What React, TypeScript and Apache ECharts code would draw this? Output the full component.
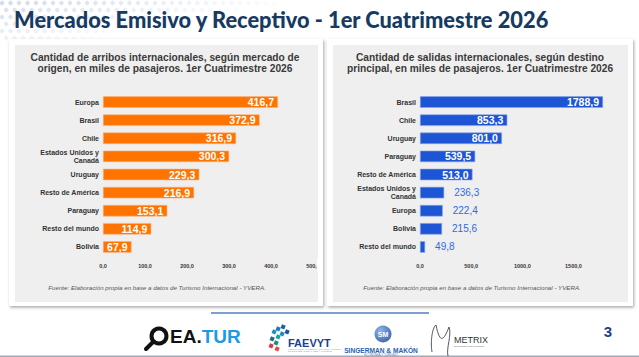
import React, { useEffect, useRef } from "react";
import * as echarts from "echarts";

// Arribos internacionales por mercado de origen (miles de pasajeros)
const categoriasArribos = [
  "Europa",
  "Brasil",
  "Chile",
  "Estados Unidos y\nCanadá",
  "Uruguay",
  "Resto de América",
  "Paraguay",
  "Resto del mundo",
  "Bolivia",
];
const valoresArribos = [416.7, 372.9, 316.9, 300.3, 229.3, 216.9, 153.1, 114.9, 67.9];

// Salidas internacionales por destino principal (miles de pasajeros)
const categoriasSalidas = [
  "Brasil",
  "Chile",
  "Uruguay",
  "Paraguay",
  "Resto de América",
  "Estados Unidos y\nCanadá",
  "Europa",
  "Bolivia",
  "Resto del mundo",
];
const valoresSalidas = [1788.9, 853.3, 801.0, 539.5, 513.0, 236.3, 222.4, 215.6, 49.8];

const tituloSlide = "Mercados Emisivo y Receptivo - 1er Cuatrimestre 2026";
const tituloArribos =
  "Cantidad de arribos internacionales, según mercado de\norigen, en miles de pasajeros. 1er Cuatrimestre 2026";
const tituloSalidas =
  "Cantidad de salidas internacionales, según destino\nprincipal, en miles de pasajeros. 1er Cuatrimestre 2026";
const fuente = "Fuente: Elaboración propia en base a datos de Turismo Internacional - YVERA.";
const numeroPagina = "3";

const SANS = "'Liberation Sans', Arial, sans-serif";
const fmt = (v: number) => v.toFixed(1).replace(".", ",");

function dotPattern() {
  const dots: any[] = [];
  for (let j = 0; j < 6; j++) {
    for (let i = 0; i < 34; i++) {
      const x = i * 8.5 + (j % 2) * 4.2;
      const y = j * 7 + 1;
      const o = 1 - x / 300 - y / 60;
      if (o <= 0.05) continue;
      dots.push({
        type: "rect",
        x: x + 2,
        y: y + 2,
        originX: 0,
        originY: 0,
        rotation: Math.PI / 5,
        shape: { x: -2, y: -2, width: 4, height: 4, r: 1 },
        style: { fill: "#c5d3e8", opacity: o * 0.8 },
        z: -20,
        silent: true,
      });
    }
  }
  return dots;
}

function card(x: number, y: number, w: number, h: number) {
  return [
    {
      type: "rect",
      shape: { x, y, width: w, height: h },
      style: {
        fill: "#ffffff",
        shadowBlur: 3,
        shadowColor: "rgba(0,0,0,0.35)",
        shadowOffsetX: 1,
        shadowOffsetY: 1.5,
      },
      z: -15,
      silent: true,
    },
    {
      type: "rect",
      shape: { x: x + 6, y: y + 6, width: w - 11, height: h - 10 },
      style: { fill: "#efefef" },
      z: -14,
      silent: true,
    },
  ];
}

function footer() {
  const els: any[] = [];
  // OEA.TUR
  els.push({
    type: "circle",
    shape: { cx: 159, cy: 336, r: 7.5 },
    style: { fill: "none", stroke: "#111", lineWidth: 4 },
  });
  els.push({
    type: "line",
    shape: { x1: 153, y1: 342, x2: 146, y2: 349 },
    style: { stroke: "#111", lineWidth: 4, lineCap: "round" },
  });
  els.push({
    type: "text",
    x: 170,
    y: 346,
    style: {
      text: "{a|EA.}{b|TUR}",
      textVerticalAlign: "bottom",
      rich: {
        a: { fontFamily: SANS, fontWeight: "bold", fontSize: 19, fill: "#111" },
        b: { fontFamily: SANS, fontWeight: "bold", fontSize: 19, fill: "#1e9be3" },
      },
    },
  });
  // FAEVYT
  const sq = [
    { x: 281, y: 325, c: "#1d5fae" },
    { x: 276, y: 327, c: "#2277c0" },
    { x: 272, y: 330, c: "#1e8fb8" },
    { x: 285, y: 330, c: "#2a4f9a" },
    { x: 280, y: 332, c: "#1f8bbf" },
    { x: 276, y: 335, c: "#17a3a0" },
    { x: 270, y: 337, c: "#1e6a8e" },
    { x: 274, y: 341, c: "#1b8c7a" },
    { x: 269, y: 344, c: "#d83a3a" },
    { x: 275, y: 347, c: "#e04a3c" },
  ];
  sq.forEach((s) =>
    els.push({
      type: "rect",
      shape: { x: s.x, y: s.y, width: 4, height: 4 },
      style: { fill: s.c },
      rotation: -0.4,
      originX: s.x + 2,
      originY: s.y + 2,
    })
  );
  els.push({
    type: "text",
    x: 288,
    y: 343,
    style: {
      text: "FAEVYT",
      fontFamily: SANS,
      fontWeight: "bold",
      fontSize: 11,
      fill: "#1b3f8f",
      textVerticalAlign: "middle",
    },
  });
  els.push({
    type: "text",
    x: 288,
    y: 350,
    style: {
      text: "FEDERACIÓN ARGENTINA DE ASOCIACIONES\nDE EMPRESAS DE VIAJES Y TURISMO",
      fontFamily: SANS,
      fontSize: 2.4,
      fill: "#8aa0c0",
      textVerticalAlign: "middle",
    },
  });
  // Singerman & Makón
  els.push({
    type: "circle",
    shape: { cx: 383, cy: 334, r: 8.5 },
    style: {
      fill: new echarts.graphic.RadialGradient(0.35, 0.3, 0.9, [
        { offset: 0, color: "#8fb3e6" },
        { offset: 1, color: "#2a5aa8" },
      ]),
    },
  });
  els.push({
    type: "text",
    x: 383,
    y: 334,
    style: {
      text: "SM",
      fontFamily: SANS,
      fontWeight: "bold",
      fontSize: 7,
      fill: "#ffffff",
      textAlign: "center",
      textVerticalAlign: "middle",
    },
  });
  els.push({
    type: "text",
    x: 381,
    y: 350,
    style: {
      text: "SINGERMAN & MAKÓN",
      fontFamily: SANS,
      fontWeight: "bold",
      fontSize: 6.6,
      fill: "#2b5fae",
      textAlign: "center",
      textVerticalAlign: "middle",
    },
  });
  els.push({
    type: "text",
    x: 381,
    y: 355,
    style: {
      text: "ECONOMÍA Y TURISMO",
      fontFamily: SANS,
      fontSize: 3,
      fill: "#6a7fa6",
      textAlign: "center",
      textVerticalAlign: "middle",
    },
  });
  // METRIX
  els.push({
    type: "bezierCurve",
    shape: { x1: 432, y1: 352, x2: 436, y2: 325, cpx1: 430, cpy1: 340, cpx2: 433, cpy2: 326 },
    style: { stroke: "#444", lineWidth: 0.9, fill: "none" },
  });
  els.push({
    type: "bezierCurve",
    shape: { x1: 436, y1: 325, x2: 449, y2: 327, cpx1: 440, cpy1: 345, cpx2: 444, cpy2: 340 },
    style: { stroke: "#444", lineWidth: 0.9, fill: "none" },
  });
  els.push({
    type: "bezierCurve",
    shape: { x1: 449, y1: 327, x2: 448, y2: 356, cpx1: 452, cpy1: 335, cpx2: 446, cpy2: 348 },
    style: { stroke: "#444", lineWidth: 0.9, fill: "none" },
  });
  els.push({
    type: "text",
    x: 454,
    y: 340,
    style: {
      text: "METRIX",
      fontFamily: SANS,
      fontSize: 9,
      fill: "#333",
      textVerticalAlign: "middle",
    },
  });
  els.push({
    type: "text",
    x: 454,
    y: 346,
    style: {
      text: "BUSINESS INTELLIGENCE",
      fontFamily: SANS,
      fontSize: 2.4,
      fill: "#777",
      textVerticalAlign: "middle",
    },
  });
  return els;
}

export default function App() {
  const ref = useRef<HTMLDivElement>(null);

  useEffect(() => {
    if (!ref.current) return;
    const chart = echarts.init(ref.current, undefined, { renderer: "svg" });

    const categoryAxis = (gridIndex: number, data: string[]) => ({
      type: "category",
      gridIndex,
      data,
      inverse: true,
      axisLine: { show: false },
      axisTick: { show: false },
      axisLabel: {
        fontFamily: SANS,
        fontWeight: "bold",
        fontSize: 7,
        color: "#333",
        margin: 4,
        lineHeight: 7.5,
      },
    });

    const valueAxis = (gridIndex: number, max: number, interval: number, showMax: boolean) => ({
      type: "value",
      gridIndex,
      min: 0,
      max,
      interval,
      axisLine: { show: false },
      axisTick: { show: false },
      splitLine: { show: false },
      axisLabel: {
        fontFamily: SANS,
        fontWeight: "bold",
        fontSize: 5.5,
        color: "#333",
        margin: 7,
        showMaxLabel: showMax,
        formatter: (v: number) => fmt(v),
      },
    });

    const insideLabel = {
      show: true,
      position: "insideRight",
      distance: 4,
      color: "#ffffff",
      fontFamily: SANS,
      fontWeight: "bold",
      fontSize: 10.5,
      formatter: (p: any) => fmt(p.value),
    };
    const outsideLabel = {
      show: true,
      position: "right",
      distance: 10,
      color: "#2d6be4",
      fontFamily: SANS,
      fontSize: 10,
      formatter: (p: any) => fmt(p.value),
    };

    chart.setOption({
      animation: false,
      backgroundColor: "#ffffff",
      grid: [
        { left: 103, top: 93, width: 210, height: 163 },
        { left: 420, top: 93, width: 204.6, height: 163 },
      ],
      xAxis: [valueAxis(0, 500, 100, true), valueAxis(1, 2000, 500, false)],
      yAxis: [categoryAxis(0, categoriasArribos), categoryAxis(1, categoriasSalidas)],
      series: [
        {
          type: "bar",
          xAxisIndex: 0,
          yAxisIndex: 0,
          barWidth: 11.5,
          data: valoresArribos,
          itemStyle: { color: "#ff7400", borderColor: "#ffb27a", borderWidth: 0.6 },
          label: insideLabel,
        },
        {
          type: "bar",
          xAxisIndex: 1,
          yAxisIndex: 1,
          barWidth: 11.5,
          data: valoresSalidas.map((v) => ({
            value: v,
            label: v > 300 ? insideLabel : outsideLabel,
          })),
          itemStyle: { color: "#1e55d4", borderColor: "#86a6ec", borderWidth: 0.6 },
        },
      ],
      graphic: [
        ...dotPattern(),
        {
          type: "text",
          x: 14,
          y: 30.5,
          style: {
            text: tituloSlide,
            fontFamily: "Lato, 'Open Sans', sans-serif",
            fontWeight: 900,
            fontSize: 21.8,
            fill: "#163a62",
            textVerticalAlign: "bottom",
          },
          z: 5,
        },
        ...card(9, 39, 314, 267),
        ...card(327, 39, 306, 267),
        {
          type: "text",
          x: 165,
          y: 63,
          style: {
            text: tituloArribos,
            fontFamily: SANS,
            fontWeight: "bold",
            fontSize: 10.2,
            lineHeight: 11.5,
            fill: "#3a3a3a",
            textAlign: "center",
            textVerticalAlign: "middle",
          },
        },
        {
          type: "text",
          x: 480,
          y: 63,
          style: {
            text: tituloSalidas,
            fontFamily: SANS,
            fontWeight: "bold",
            fontSize: 10.2,
            lineHeight: 11.5,
            fill: "#3a3a3a",
            textAlign: "center",
            textVerticalAlign: "middle",
          },
        },
        {
          type: "text",
          x: 157,
          y: 287,
          style: {
            text: fuente,
            fontFamily: SANS,
            fontStyle: "italic",
            fontSize: 6.2,
            fill: "#555",
            textAlign: "center",
            textVerticalAlign: "middle",
          },
        },
        {
          type: "text",
          x: 472,
          y: 287,
          style: {
            text: fuente,
            fontFamily: SANS,
            fontStyle: "italic",
            fontSize: 6.2,
            fill: "#555",
            textAlign: "center",
            textVerticalAlign: "middle",
          },
        },
        // the card edge trims the last tick label of the left axis
        {
          type: "rect",
          shape: { x: 317, y: 258, width: 6, height: 14 },
          style: { fill: "#ffffff" },
          z: 100,
          silent: true,
        },
        {
          type: "rect",
          shape: { x: 211, y: 312, width: 218, height: 2 },
          style: { fill: "#7f9fcf" },
        },
        {
          type: "rect",
          shape: { x: 0, y: 355.5, width: 639, height: 1.5 },
          style: { fill: "#a3abb8" },
        },
        {
          type: "text",
          x: 608,
          y: 331,
          style: {
            text: numeroPagina,
            fontFamily: SANS,
            fontWeight: "bold",
            fontSize: 15,
            fill: "#1d3f8a",
            textAlign: "center",
            textVerticalAlign: "middle",
          },
        },
        ...footer(),
      ],
    });

    return () => chart.dispose();
  }, []);

  return (
    <div
      ref={ref}
      style={{ position: "absolute", left: 0, top: 0, width: 639, height: 357, background: "#fff" }}
    />
  );
}
